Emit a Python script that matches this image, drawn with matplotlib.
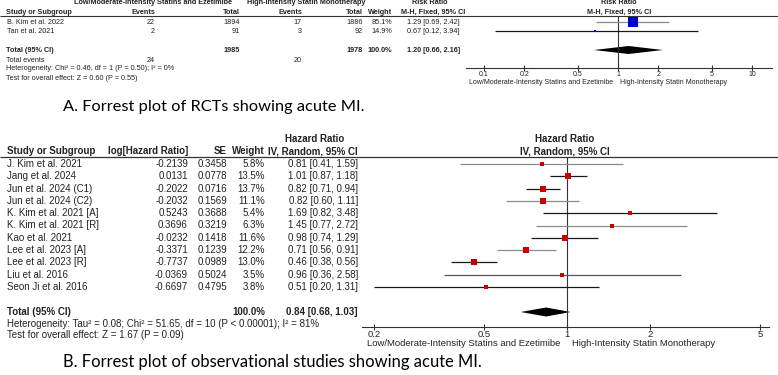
"""Two RevMan style forest plots (acute MI): RCTs and observational studies"""

import matplotlib
matplotlib.use("Agg")
import matplotlib.pyplot as plt
from matplotlib.ticker import NullLocator

# ---- A. RCTs (risk ratio, M-H fixed) ----
rct_studies = ["B. Kim et al. 2022", "Tan et al. 2021"]
rct_events_low = [22, 2]
rct_total_low = [1894, 91]
rct_events_high = [17, 3]
rct_total_high = [1886, 92]
rct_weight = [85.1, 14.9]
rct_rr = [1.29, 0.67]
rct_lo = [0.69, 0.12]
rct_hi = [2.42, 3.94]
rct_pooled = [1.20, 0.66, 2.16]
rct_sum_total = [1985, 1978]
rct_sum_events = [24, 20]
rct_ticks = [0.1, 0.2, 0.5, 1, 2, 5, 10]
rct_tick_labels = ["0.1", "0.2", "0.5", "1", "2", "5", "10"]
rct_het = "Heterogeneity: Chi\u00b2 = 0.46, df = 1 (P = 0.50); I\u00b2 = 0%"
rct_test = "Test for overall effect: Z = 0.60 (P = 0.55)"

# ---- B. observational studies (hazard ratio, IV random) ----
obs_studies = ["J. Kim et al. 2021", "Jang et al. 2024", "Jun et al. 2024 (C1)",
               "Jun et al. 2024 (C2)", "K. Kim et al. 2021 [A]", "K. Kim et al. 2021 [R]",
               "Kao et al. 2021", "Lee et al. 2023 [A]", "Lee et al. 2023 [R]",
               "Liu et al. 2016", "Seon Ji et al. 2016"]
obs_loghr = [-0.2139, 0.0131, -0.2022, -0.2032, 0.5243, 0.3696,
             -0.0232, -0.3371, -0.7737, -0.0369, -0.6697]
obs_se = [0.3458, 0.0778, 0.0716, 0.1569, 0.3688, 0.3219,
          0.1418, 0.1239, 0.0989, 0.5024, 0.4795]
obs_weight = [5.8, 13.5, 13.7, 11.1, 5.4, 6.3, 11.6, 12.2, 13.0, 3.5, 3.8]
obs_hr = [0.81, 1.01, 0.82, 0.82, 1.69, 1.45, 0.98, 0.71, 0.46, 0.96, 0.51]
obs_lo = [0.41, 0.87, 0.71, 0.60, 0.82, 0.77, 0.74, 0.56, 0.38, 0.36, 0.20]
obs_hi = [1.59, 1.18, 0.94, 1.11, 3.48, 2.72, 1.29, 0.91, 0.56, 2.58, 1.31]
obs_pooled = [0.84, 0.68, 1.03]
obs_ticks = [0.2, 0.5, 1, 2, 5]
obs_tick_labels = ["0.2", "0.5", "1", "2", "5"]
obs_het = ("Heterogeneity: Tau\u00b2 = 0.08; Chi\u00b2 = 51.65, df = 10 "
           "(P < 0.00001); I\u00b2 = 81%")
obs_test = "Test for overall effect: Z = 1.67 (P = 0.09)"

label_low = "Low/Moderate-Intensity Statins and Ezetimibe"
label_high = "High-Intensity Statin Monotherapy"
caption_a = "A. Forrest plot of RCTs showing acute MI."
caption_b = "B. Forrest plot of observational studies showing acute MI."

# line colours of the CI bars (grey/black as in the original render)
rct_line_colors = ["#8c8c8c", "#1a1a1a"]
obs_line_colors = ["#8c8c8c", "#1a1a1a", "#1a1a1a", "#8c8c8c", "#1a1a1a", "#8c8c8c",
                   "#1a1a1a", "#8c8c8c", "#1a1a1a", "#555555", "#1a1a1a"]

W, H = 778, 375
TXT = "#222222"

fig = plt.figure(figsize=(W / 100, H / 100), dpi=100)
canvas = fig.add_axes([0, 0, 1, 1])
canvas.set_xlim(0, W)
canvas.set_ylim(H, 0)
canvas.axis("off")


def put(x, y, s, size, ha="left", bold=False, family="Liberation Sans", color=TXT):
    canvas.text(x, y, s, fontsize=size, ha=ha, va="center", color=color,
                fontweight="bold" if bold else "normal", family=family)


def forest_axes(x0, x1, y_top, y_axis, xlim, ticks, tick_labels, size):
    axe = fig.add_axes([x0 / W, 1 - y_axis / H, (x1 - x0) / W, (y_axis - y_top) / H])
    axe.set_xscale("log")
    axe.set_xlim(*xlim)
    axe.set_ylim(y_axis, y_top)
    axe.patch.set_visible(False)
    for side in ("top", "right", "left"):
        axe.spines[side].set_visible(False)
    axe.spines["bottom"].set_linewidth(0.8)
    axe.spines["bottom"].set_color("#333333")
    axe.set_yticks([])
    axe.set_xticks(ticks)
    axe.set_xticklabels(tick_labels)
    axe.xaxis.set_minor_locator(NullLocator())
    axe.tick_params(axis="x", direction="inout", length=5, width=0.8, pad=0,
                    labelsize=size, colors="#333333", labelcolor=TXT)
    for lab in axe.get_xticklabels():
        lab.set_family("Liberation Sans")
    axe.axvline(1, color="#333333", lw=0.8)
    return axe


def axis_labels(axe, dy, gap_left, gap_right, size):
    axe.annotate(label_low, xy=(1, 0), xycoords=("data", "axes fraction"),
                 xytext=(-gap_left, -dy), textcoords="offset pixels",
                 ha="right", va="center", fontsize=size, color=TXT, family="Liberation Sans")
    axe.annotate(label_high, xy=(1, 0), xycoords=("data", "axes fraction"),
                 xytext=(gap_right, -dy), textcoords="offset pixels",
                 ha="left", va="center", fontsize=size, color=TXT, family="Liberation Sans")


def diamond(axe, est, lo, hi, y, half):
    axe.fill([lo, est, hi, est], [y, y - half, y, y + half], color="black", lw=0)


# ================= A =================
fs_a = 5.2
put(153, 2, "Low/Moderate-Intensity Statins and Ezetimibe", fs_a, "center", True)
put(306, 2, "High-Intensity Statin Monotherapy", fs_a, "center", True)
put(430, 2, "Risk Ratio", fs_a, "center", True)
put(619, 2, "Risk Ratio", fs_a, "center", True)
put(6, 12, "Study or Subgroup", fs_a, bold=True)
for x, s in [(155, "Events"), (240, "Total"), (302, "Events"), (363, "Total"), (392, "Weight")]:
    put(x, 12, s, fs_a, "right", True)
put(433, 12, "M-H, Fixed, 95% CI", fs_a, "center", True)
put(619, 12, "M-H, Fixed, 95% CI", fs_a, "center", True)
canvas.hlines(16, 0, W, color="#333333", lw=0.8)

rct_rows = [22 + 9.4 * i for i in range(len(rct_studies))]
for i, y in enumerate(rct_rows):
    put(7, y, rct_studies[i], fs_a)
    put(155, y, str(rct_events_low[i]), fs_a, "right")
    put(240, y, str(rct_total_low[i]), fs_a, "right")
    put(302, y, str(rct_events_high[i]), fs_a, "right")
    put(363, y, str(rct_total_high[i]), fs_a, "right")
    put(392, y, "%.1f%%" % rct_weight[i], fs_a, "right")
    put(407, y, "%.2f [%.2f, %.2f]" % (rct_rr[i], rct_lo[i], rct_hi[i]), fs_a)

y_tot_a = 50
put(6, y_tot_a, "Total (95% CI)", fs_a, bold=True)
put(240, y_tot_a, str(rct_sum_total[0]), fs_a, "right", True)
put(363, y_tot_a, str(rct_sum_total[1]), fs_a, "right", True)
put(392, y_tot_a, "100.0%", fs_a, "right", True)
put(407, y_tot_a, "%.2f [%.2f, %.2f]" % tuple(rct_pooled), fs_a, bold=True)
put(6, 60, "Total events", fs_a)
put(155, 60, str(rct_sum_events[0]), fs_a, "right")
put(302, 60, str(rct_sum_events[1]), fs_a, "right")
put(6, 69, rct_het, fs_a)
put(6, 78, rct_test, fs_a)

ax_a = forest_axes(466, 772, 16, 68, (0.0734, 14.1), rct_ticks, rct_tick_labels, 5.0)
for i, y in enumerate(rct_rows):
    ax_a.hlines(y, rct_lo[i], rct_hi[i], color=rct_line_colors[i], lw=0.9)
    side = 9.5 * (rct_weight[i] / max(rct_weight)) ** 0.75
    ax_a.plot(rct_rr[i], y, "s", color="#0000cc", ms=max(side, 2.5) * 0.75, mew=0)
diamond(ax_a, rct_pooled[0], rct_pooled[1], rct_pooled[2], y_tot_a, 4)
axis_labels(ax_a, 14.5, 5, 2, 5.0)

put(63, 107, caption_a, 11.8, family="Lato", color="black")

# ================= B =================
fs_b = 7.0
put(315, 139, "Hazard Ratio", fs_b, "center", True)
put(565, 139, "Hazard Ratio", fs_b, "center", True)
put(7, 151, "Study or Subgroup", fs_b, bold=True)
put(188, 151, "log[Hazard Ratio]", fs_b, "right", True)
put(227, 151, "SE", fs_b, "right", True)
put(265, 151, "Weight", fs_b, "right", True)
put(358, 151, "IV, Random, 95% CI", fs_b, "right", True)
put(565, 151, "IV, Random, 95% CI", fs_b, "center", True)
canvas.hlines(157, 0, W, color="#333333", lw=0.9)

obs_rows = [164 + 12.3 * i for i in range(len(obs_studies))]
for i, y in enumerate(obs_rows):
    put(7, y, obs_studies[i], fs_b)
    put(188, y, "%.4f" % obs_loghr[i], fs_b, "right")
    put(227, y, "%.4f" % obs_se[i], fs_b, "right")
    put(265, y, "%.1f%%" % obs_weight[i], fs_b, "right")
    put(358, y, "%.2f [%.2f, %.2f]" % (obs_hr[i], obs_lo[i], obs_hi[i]), fs_b, "right")

y_tot_b = 312
put(7, y_tot_b, "Total (95% CI)", fs_b, bold=True)
put(265, y_tot_b, "100.0%", fs_b, "right", True)
put(358, y_tot_b, "%.2f [%.2f, %.2f]" % tuple(obs_pooled), fs_b, "right", True)
put(7, 324, obs_het, fs_b)
put(7, 335, obs_test, fs_b)

ax_b = forest_axes(362, 769, 157, 327, (0.181, 5.39), obs_ticks, obs_tick_labels, 6.8)
for i, y in enumerate(obs_rows):
    ax_b.hlines(y, obs_lo[i], obs_hi[i], color=obs_line_colors[i], lw=0.9)
    side = 6.0 * (obs_weight[i] / max(obs_weight)) ** 0.6
    ax_b.plot(obs_hr[i], y, "s", color="#cc0000", ms=max(side, 3.0) * 0.75, mew=0)
diamond(ax_b, obs_pooled[0], obs_pooled[1], obs_pooled[2], y_tot_b, 4.5)
axis_labels(ax_b, 17, 7, 5, 6.8)

put(63, 362, caption_b, 11.9, family="Lato", color="black")

fig.savefig("out.png", dpi=100)
